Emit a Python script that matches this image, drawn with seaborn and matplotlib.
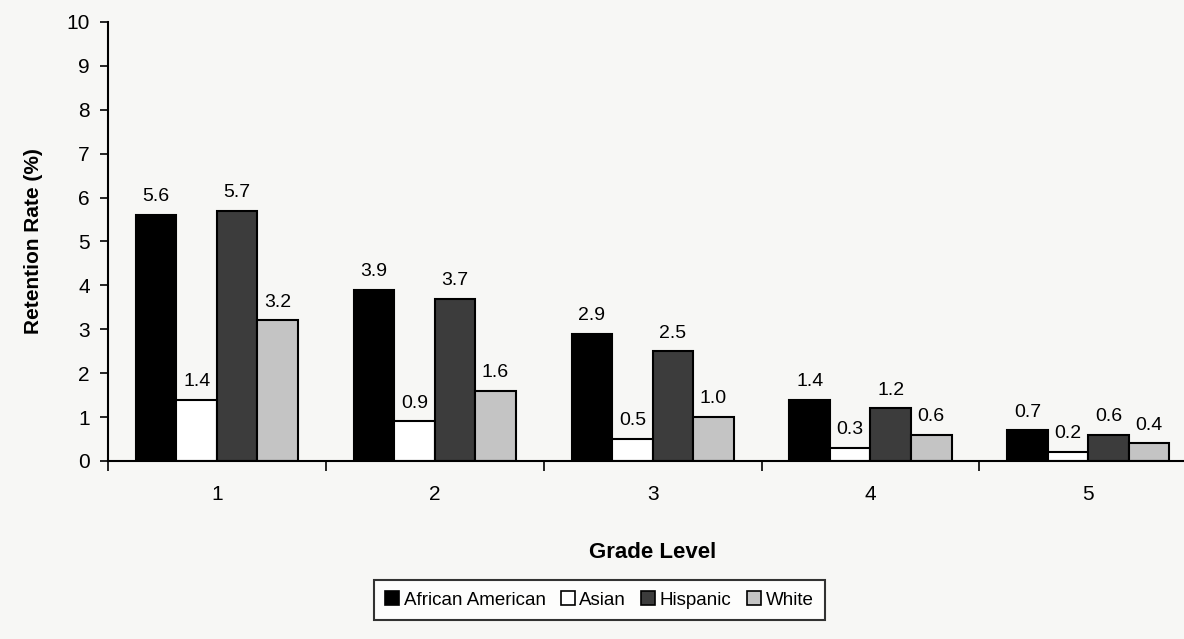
import matplotlib
matplotlib.use("Agg")
import matplotlib.pyplot as plt
import seaborn as sns
import pandas as pd
from matplotlib.patches import Patch
from matplotlib.ticker import MultipleLocator, FixedLocator

grades = ["1", "2", "3", "4", "5"]
groups = ["African American", "Asian", "Hispanic", "White"]
african_american = [5.6, 3.9, 2.9, 1.4, 0.7]
asian = [1.4, 0.9, 0.5, 0.3, 0.2]
hispanic = [5.7, 3.7, 2.5, 1.2, 0.6]
white = [3.2, 1.6, 1.0, 0.6, 0.4]

series = [african_american, asian, hispanic, white]
rows = []
for g, vals in zip(groups, series):
    for gr, v in zip(grades, vals):
        rows.append({"Grade": gr, "Group": g, "Value": v})
df = pd.DataFrame(rows)

sns.set_theme(style="white")
plt.rcParams['font.family'] = ['Liberation Sans Narrow', 'Liberation Sans', 'DejaVu Sans']

colors = ["#000000", "#ffffff", "#3c3c3c", "#c4c4c4"]

fig = plt.figure(figsize=(11.84, 6.39), dpi=100)
fig.patch.set_facecolor("#f7f7f5")
ax = fig.add_axes([0.0912, 0.2786, 0.92, 0.687])
ax.set_facecolor("none")

sns.barplot(data=df, x="Grade", y="Value", hue="Group", hue_order=groups,
            palette=colors, width=0.744, edgecolor="black", linewidth=1.5,
            ax=ax, legend=False)

for cont in ax.containers:
    ax.bar_label(cont, fmt="%.1f", padding=7, fontsize=14, color="black")

ax.set_ylim(0, 10)
ax.set_xlim(-0.5, 4.5)
ax.yaxis.set_major_locator(MultipleLocator(1))
ax.tick_params(axis="y", which="major", direction="out", length=6, width=1.2,
               labelsize=15, left=True, pad=7, color="black", labelcolor="black")
ax.set_xticks(range(5))
ax.set_xticklabels(grades)
ax.tick_params(axis="x", which="major", length=0, labelsize=15, pad=17,
               labelcolor="black")
ax.xaxis.set_minor_locator(FixedLocator([-0.5, 0.5, 1.5, 2.5, 3.5, 4.5]))
ax.tick_params(axis="x", which="minor", direction="out", length=7, width=1.2,
               bottom=True, color="black")

for s in ["top", "right"]:
    ax.spines[s].set_visible(False)
for s in ["left", "bottom"]:
    ax.spines[s].set_color("black")
    ax.spines[s].set_linewidth(1.5)

ax.set_ylabel("Retention Rate (%)", fontsize=15, fontweight="bold", labelpad=17,
              color="black")
ax.set_xlabel("Grade Level", fontsize=16, fontweight="bold", labelpad=28,
              color="black")

handles = [Patch(facecolor=c, edgecolor="black", linewidth=1.2) for c in colors]
leg = fig.legend(handles, groups, loc="center", bbox_to_anchor=(0.506, 0.061),
                 ncol=4, frameon=True, fancybox=False, fontsize=13.5,
                 handlelength=0.75, handleheight=0.75, handletextpad=0.25,
                 columnspacing=0.8, borderpad=0.6, edgecolor="black")
leg.get_frame().set_linewidth(1.5)
leg.get_frame().set_facecolor("white")
for t in leg.get_texts():
    t.set_color("black")

fig.savefig("out.png", dpi=100, facecolor=fig.get_facecolor())
